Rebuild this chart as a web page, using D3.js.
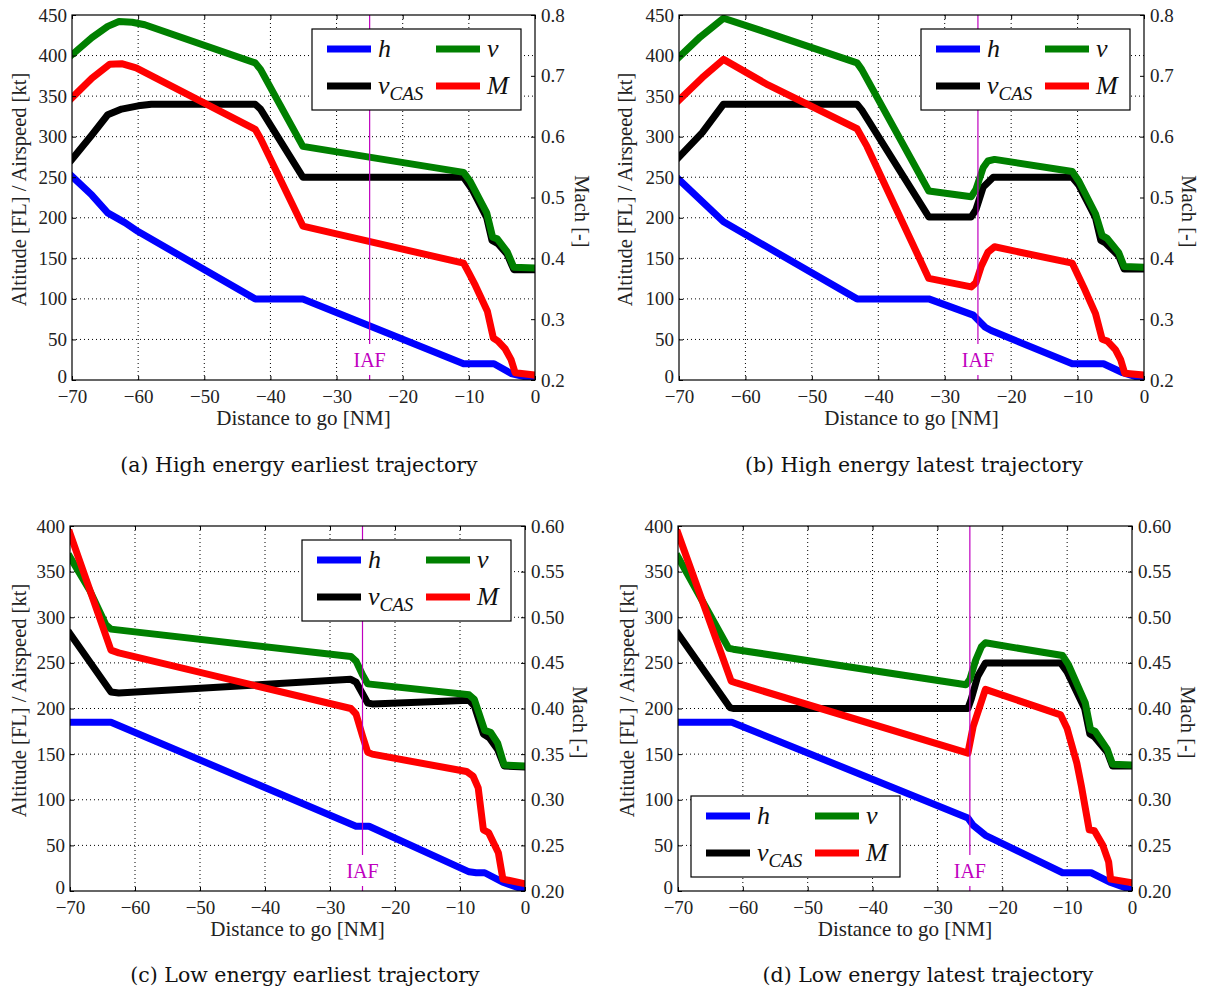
<!DOCTYPE html>
<html>
<head>
<meta charset="utf-8">
<script src="https://cdn.jsdelivr.net/npm/d3@7"></script>
<style>
  body { margin: 0; background: #fff; }
  text { font-family: "Liberation Serif", "DejaVu Serif", serif; }
  text.caption { font-family: "DejaVu Serif", serif; }
</style>
</head>
<body>
<svg id="fig" width="1206" height="991"></svg>
<script>
// tick values
const xTicks = [-70, -60, -50, -40, -30, -20, -10, 0];
const altTicksHigh = [0, 50, 100, 150, 200, 250, 300, 350, 400, 450];
const altTicksLow = [0, 50, 100, 150, 200, 250, 300, 350, 400];
const machTicksHigh = [0.2, 0.3, 0.4, 0.5, 0.6, 0.7, 0.8];
const machTicksLow = [0.20, 0.25, 0.30, 0.35, 0.40, 0.45, 0.50, 0.55, 0.60];
const iafDistance = -25;

const seriesNames = ["h", "vCAS", "v", "M"]; // plotting order
const seriesColors = { h: "#0000ff", v: "#008000", vCAS: "#000000", M: "#ff0000" };

// (a) high energy earliest  [distance NM, value]
const aH = [[-70,251],[-67,228],[-64.6,206],[-62,194],[-60,183],[-42.3,100],[-35.1,100],[-10.8,20],[-6.2,20],[-3.6,8],[0,1]];
const aVcas = [[-70,272],[-67,302],[-64.6,327],[-62.5,334],[-60,338],[-58,340],[-42.3,340],[-41.5,334],[-35.1,250],[-10.8,250],[-9.5,235],[-7.3,200],[-6.5,172],[-5.6,168],[-4.2,155],[-3.2,136],[0,136]];
const aV = [[-70,401],[-67,422],[-64.6,436],[-62.9,442],[-60.9,441],[-59,438],[-42.3,391],[-41.5,383],[-35.1,288],[-10.8,256],[-9.8,245],[-7.3,206],[-6.4,176],[-5.7,174],[-4.2,158],[-3.2,139],[0,138]];
const aM = [[-70,0.664],[-67,0.696],[-64.3,0.719],[-62.5,0.72],[-60.3,0.713],[-42.3,0.612],[-41.5,0.597],[-35.1,0.453],[-10.8,0.392],[-10,0.376],[-9,0.355],[-7.2,0.313],[-6.3,0.269],[-5.6,0.264],[-4.5,0.251],[-3.6,0.233],[-3,0.212],[0,0.208]];

// (b) high energy latest
const bH = [[-70,247],[-63.3,195],[-43.2,100],[-32.4,100],[-25.7,80],[-23.9,65],[-23,61],[-10.8,20],[-6.1,20],[-3.2,9],[0,1]];
const bVcas = [[-70,275],[-66.5,305],[-63.3,340],[-56.6,340],[-43.2,340],[-42.5,333],[-32.4,201],[-26,201],[-25.3,210],[-24.2,238],[-22.7,250],[-10.8,250],[-9.8,240],[-7.3,200],[-6.5,172],[-5.8,169],[-3.8,153],[-3,137],[0,137]];
const bV = [[-70,398],[-66.8,423],[-63.3,446],[-56.6,428],[-43.2,391],[-42.5,383],[-32.4,233],[-26,226],[-25.3,235],[-24.2,262],[-23.5,270],[-22.5,272],[-10.8,257],[-9.8,245],[-7.3,205],[-6.3,178],[-5.6,175],[-3.8,157],[-3,140],[0,139]];
const bM = [[-70,0.66],[-66.5,0.697],[-63.3,0.727],[-56.6,0.685],[-43.2,0.613],[-41.7,0.584],[-32.4,0.367],[-26,0.353],[-25.3,0.36],[-24.5,0.387],[-23.5,0.41],[-22.5,0.419],[-10.8,0.392],[-9.1,0.353],[-7.3,0.309],[-6.3,0.267],[-5.5,0.264],[-4.3,0.25],[-3.5,0.233],[-2.9,0.211],[0,0.208]];

// (c) low energy earliest
const cH = [[-70,185],[-63.7,185],[-26,71],[-24,71],[-8.6,21],[-7.5,20],[-6.2,20],[-3.5,10],[0,1]];
const cVcas = [[-70,282],[-63.7,218],[-62.5,217],[-26.8,232],[-26,229],[-24.2,206],[-23.5,205],[-8.6,209],[-7.8,203],[-6.4,172],[-5.5,168],[-4.2,155],[-3.2,137],[0,136]];
const cV = [[-70,366],[-67,330],[-64.5,292],[-63.7,287],[-26.8,257],[-26,252],[-25,237],[-24.2,227],[-8.6,215],[-7.8,210],[-6.2,176],[-5.3,174],[-4.2,162],[-3.2,138],[0,137]];
const cM = [[-70,0.592],[-63.7,0.464],[-62.5,0.461],[-26.8,0.4],[-26,0.394],[-25,0.37],[-24.2,0.352],[-23.5,0.35],[-9,0.331],[-8,0.326],[-7.2,0.313],[-6.4,0.267],[-5.6,0.264],[-4.1,0.242],[-3.4,0.213],[0,0.208]];

// (d) low energy latest
const dH = [[-70,185],[-61.7,185],[-25.3,80],[-24.5,72],[-22.6,61],[-10.7,20],[-6.3,20],[-3.5,10],[0,1]];
const dVcas = [[-70,282],[-62,201],[-61.5,200],[-25.3,200],[-24.8,210],[-23.8,235],[-22.6,250],[-11,250],[-10,240],[-7.3,200],[-6.5,172],[-5.8,169],[-3.8,152],[-3,137],[0,137]];
const dV = [[-70,366],[-62.2,266],[-61.5,265],[-25.6,226],[-25,232],[-24.1,253],[-23.2,268],[-22.6,272],[-10.7,258],[-9.8,248],[-7.2,206],[-6.4,177],[-5.7,175],[-3.8,155],[-3,139],[0,138]];
const dM = [[-70,0.592],[-61.8,0.43],[-61,0.428],[-25.3,0.351],[-24.5,0.38],[-22.6,0.421],[-11,0.393],[-10,0.378],[-8.5,0.34],[-7.8,0.315],[-6.6,0.267],[-5.8,0.266],[-4.5,0.25],[-3.6,0.232],[-3.3,0.213],[0,0.209]];

const captions = ["(a)  High energy earliest trajectory", "(b)  High energy latest trajectory",
                  "(c)  Low energy earliest trajectory", "(d)  Low energy latest trajectory"];

const panels = [
  { box: [72, 535, 15, 380], alt: altTicksHigh, mach: machTicksHigh, machFmt: d3.format(".1f"),
    series: { h: aH, v: aV, vCAS: aVcas, M: aM }, legend: "ur", labelX: [19, 582], capX: 299, capY: 465, id: "a" },
  { box: [679, 1144, 15, 380], alt: altTicksHigh, mach: machTicksHigh, machFmt: d3.format(".1f"),
    series: { h: bH, v: bV, vCAS: bVcas, M: bM }, legend: "ur", labelX: [625, 1189], capX: 914, capY: 465, id: "b" },
  { box: [70, 525, 526, 891], alt: altTicksLow, mach: machTicksLow, machFmt: d3.format(".2f"),
    series: { h: cH, v: cV, vCAS: cVcas, M: cM }, legend: "ur", labelX: [19, 580], capX: 305, capY: 975, id: "c" },
  { box: [678, 1132, 526, 891], alt: altTicksLow, mach: machTicksLow, machFmt: d3.format(".2f"),
    series: { h: dH, v: dV, vCAS: dVcas, M: dM }, legend: "ll", labelX: [627, 1188], capX: 928, capY: 975, id: "d" }
];

const svg = d3.select("#fig");
const minus = s => String(s).replace("-", "\u2212");

function drawPanel(p, i) {
  const [L, R, T, B] = p.box;
  const x = d3.scaleLinear().domain([-70, 0]).range([L, R]);
  const yL = d3.scaleLinear().domain([0, d3.max(p.alt)]).range([B, T]);
  const yR = d3.scaleLinear().domain([d3.min(p.mach), d3.max(p.mach)]).range([B, T]);
  const g = svg.append("g");

  g.append("clipPath").attr("id", "clip" + p.id)
    .append("rect").attr("x", L).attr("y", T).attr("width", R - L).attr("height", B - T);

  // dotted grid
  g.selectAll(".gx").data(xTicks.slice(1, -1)).join("line")
    .attr("x1", d => x(d)).attr("x2", d => x(d)).attr("y1", T).attr("y2", B)
    .attr("stroke", "#000").attr("stroke-width", 1).attr("stroke-dasharray", "1,3");
  g.selectAll(".gy").data(p.alt.slice(1, -1)).join("line")
    .attr("x1", L).attr("x2", R).attr("y1", d => yL(d)).attr("y2", d => yL(d))
    .attr("stroke", "#000").attr("stroke-width", 1).attr("stroke-dasharray", "1,3");

  // curves
  const lines = g.append("g").attr("clip-path", `url(#clip${p.id})`);
  seriesNames.forEach(name => {
    const yS = name === "M" ? yR : yL;
    const line = d3.line().x(d => x(d[0])).y(d => yS(d[1]));
    lines.append("path").datum(p.series[name])
      .attr("d", line).attr("fill", "none")
      .attr("stroke", seriesColors[name]).attr("stroke-width", 7)
      .attr("stroke-linejoin", "round").attr("stroke-linecap", "square");
  });

  // IAF marker
  const xi = x(iafDistance);
  g.append("line").attr("x1", xi).attr("x2", xi).attr("y1", T).attr("y2", B)
    .attr("stroke", "#bf00bf").attr("stroke-width", 1.2);
  g.append("rect").attr("x", xi - 18).attr("y", B - 36).attr("width", 36).attr("height", 31).attr("fill", "#fff");
  g.append("text").attr("x", xi).attr("y", B - 13).attr("text-anchor", "middle")
    .attr("font-size", 20).attr("fill", "#bf00bf").text("IAF");

  // axes with inward ticks
  const styleAxis = sel => {
    sel.select(".domain").remove();
    sel.selectAll(".tick line").attr("stroke", "#000");
    sel.selectAll(".tick text").attr("font-size", 19).attr("fill", "#222");
  };
  g.append("g").attr("transform", `translate(0,${B})`)
    .call(d3.axisBottom(x).tickValues(xTicks).tickSize(-4).tickPadding(10).tickFormat(minus)).call(styleAxis);
  g.append("g").attr("transform", `translate(0,${T})`)
    .call(d3.axisTop(x).tickValues(xTicks).tickSize(-4).tickFormat("")).call(styleAxis);
  const leftAxis = g.append("g").attr("transform", `translate(${L},0)`)
    .call(d3.axisLeft(yL).tickValues(p.alt).tickSize(-4).tickPadding(5).tickFormat(d3.format("d"))).call(styleAxis);
  // nudge the lowest altitude label up so it clears the "−70" below it
  leftAxis.selectAll(".tick").filter(d => d === 0).select("text").attr("dy", "0.12em");
  g.append("g").attr("transform", `translate(${R},0)`)
    .call(d3.axisRight(yR).tickValues(p.mach).tickSize(-4).tickPadding(6).tickFormat(p.machFmt)).call(styleAxis);

  g.append("rect").attr("x", L).attr("y", T).attr("width", R - L).attr("height", B - T)
    .attr("fill", "none").attr("stroke", "#000").attr("stroke-width", 1.2);

  // axis labels
  const midY = (T + B) / 2;
  g.append("text").attr("transform", `translate(${p.labelX[0]},${midY - 8}) rotate(-90)`)
    .attr("text-anchor", "middle").attr("dominant-baseline", "central")
    .attr("font-size", 20.5).attr("fill", "#222").text("Altitude [FL] / Airspeed [kt]");
  g.append("text").attr("transform", `translate(${p.labelX[1]},${midY + 14}) rotate(90)`)
    .attr("text-anchor", "middle").attr("dominant-baseline", "central")
    .attr("font-size", 20.5).attr("fill", "#222").text("Mach [-]");
  g.append("text").attr("x", (L + R) / 2).attr("y", B + 45).attr("text-anchor", "middle")
    .attr("font-size", 21).attr("fill", "#222").text("Distance to go [NM]");

  // legend
  const lw = 209, lh = 81;
  const lx = p.legend === "ur" ? R - 14 - lw : L + 13;
  const ly = p.legend === "ur" ? T + 14 : B - 14 - lh;
  const lg = g.append("g").attr("transform", `translate(${lx},${ly})`);
  lg.append("rect").attr("width", lw).attr("height", lh).attr("fill", "#fff")
    .attr("stroke", "#000").attr("stroke-width", 1.2);
  const items = [["h", 0, 0], ["v", 1, 0], ["vCAS", 0, 1], ["M", 1, 1]];
  items.forEach(([name, col, row]) => {
    const hx = 15 + col * 109, hy = 20 + row * 37;
    lg.append("line").attr("x1", hx).attr("x2", hx + 44).attr("y1", hy).attr("y2", hy)
      .attr("stroke", seriesColors[name]).attr("stroke-width", 7);
    const t = lg.append("text").attr("x", hx + 51).attr("y", hy + 8)
      .attr("font-size", 26).attr("font-style", "italic").attr("fill", "#111");
    if (name === "vCAS") {
      t.append("tspan").text("v");
      t.append("tspan").attr("font-size", 19).attr("dy", 6).text("CAS");
    } else {
      t.text(name);
    }
  });

  // caption
  svg.append("text").attr("class", "caption").attr("x", p.capX).attr("y", p.capY + 7)
    .attr("text-anchor", "middle").attr("font-size", 20.5).attr("fill", "#111").text(captions[i]);
}

panels.forEach(drawPanel);
</script>
</body>
</html>
